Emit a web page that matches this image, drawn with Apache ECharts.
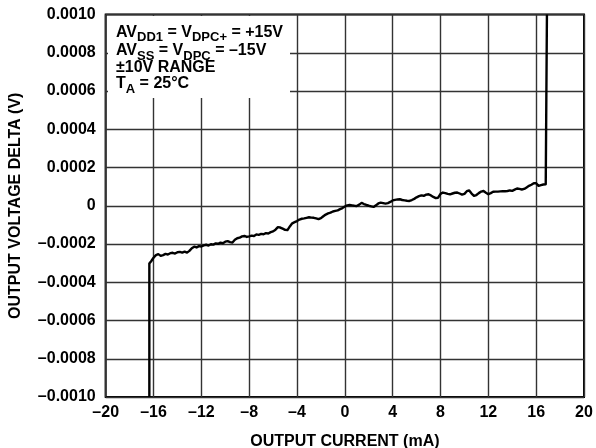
<!DOCTYPE html>
<html>
<head>
<meta charset="utf-8">
<script src="https://cdn.jsdelivr.net/npm/echarts@6/dist/echarts.min.js"></script>
<style>
html,body{margin:0;padding:0;background:#fff;}
#chart{width:596px;height:448px;}
</style>
</head>
<body>
<div id="chart"></div>
<script>
// Output current (mA)
const currentMA = [
-16.35,-16.35,-16.2,-16.0,-15.8,-15.6,-15.4,-15.2,-15.0,-14.8,-14.6,-14.4,-14.2,-14.0,-13.8,-13.6,-13.4,-13.2,-13.0,-12.8,
-12.6,-12.4,-12.2,-12.0,-11.8,-11.6,-11.4,-11.2,-11.0,-10.8,-10.6,-10.4,-10.2,-10.0,-9.8,-9.6,-9.4,-9.2,-9.0,-8.8,
-8.6,-8.4,-8.2,-8.0,-7.8,-7.6,-7.4,-7.2,-7.0,-6.8,-6.6,-6.4,-6.2,-6.0,-5.8,-5.6,-5.4,-5.2,-5.0,-4.8,
-4.6,-4.4,-4.2,-4.0,-3.8,-3.6,-3.4,-3.2,-3.0,-2.8,-2.6,-2.4,-2.2,-2.0,-1.8,-1.6,-1.4,-1.2,-1.0,-0.8,
-0.6,-0.4,-0.2,0.0,0.2,0.4,0.6,0.8,1.0,1.2,1.4,1.6,1.8,2.0,2.2,2.4,2.6,2.8,3.0,3.2,
3.4,3.6,3.8,4.0,4.2,4.4,4.6,4.8,5.0,5.2,5.4,5.6,5.8,6.0,6.2,6.4,6.6,6.8,7.0,7.2,
7.4,7.6,7.8,8.0,8.2,8.4,8.6,8.8,9.0,9.2,9.4,9.6,9.8,10.0,10.2,10.4,10.6,10.8,11.0,11.2,
11.4,11.6,11.8,12.0,12.2,12.4,12.6,12.8,13.0,13.2,13.4,13.6,13.8,14.0,14.2,14.4,14.6,14.8,15.0,15.2,
15.4,15.6,15.8,16.0,16.2,16.4,16.6,16.8,16.9,16.9
];
// Output voltage delta (V)
const deltaV = [
-1000e-6,-302e-6,-290e-6,-272e-6,-258e-6,-253e-6,-262e-6,-258e-6,-252e-6,-255e-6,-248e-6,-246e-6,-250e-6,-243e-6,-241e-6,-245e-6,-240e-6,-245e-6,-236e-6,-222e-6,
-214e-6,-218e-6,-211e-6,-213e-6,-207e-6,-204e-6,-208e-6,-201e-6,-203e-6,-197e-6,-199e-6,-193e-6,-196e-6,-188e-6,-185e-6,-190e-6,-192e-6,-178e-6,-170e-6,-167e-6,
-160e-6,-158e-6,-163e-6,-160e-6,-156e-6,-158e-6,-150e-6,-152e-6,-147e-6,-149e-6,-143e-6,-145e-6,-138e-6,-134e-6,-125e-6,-112e-6,-114e-6,-120e-6,-126e-6,-127e-6,
-108e-6,-92e-6,-86e-6,-80e-6,-72e-6,-68e-6,-66e-6,-63e-6,-60e-6,-62e-6,-63e-6,-66e-6,-70e-6,-65e-6,-55e-6,-46e-6,-40e-6,-36e-6,-30e-6,-27e-6,
-24e-6,-18e-6,-12e-6,-4e-6,2e-6,4e-6,2e-6,0e-6,-1e-6,6e-6,15e-6,9e-6,4e-6,0e-6,-3e-6,-6e-6,2e-6,12e-6,16e-6,14e-6,
11e-6,14e-6,20e-6,28e-6,31e-6,33e-6,34e-6,30e-6,28e-6,26e-6,25e-6,30e-6,36e-6,44e-6,50e-6,54e-6,52e-6,58e-6,60e-6,54e-6,
46e-6,40e-6,42e-6,62e-6,69e-6,66e-6,62e-6,60e-6,64e-6,68e-6,69e-6,64e-6,58e-6,62e-6,76e-6,80e-6,64e-6,52e-6,56e-6,66e-6,
74e-6,77e-6,68e-6,60e-6,66e-6,73e-6,74e-6,74e-6,75e-6,76e-6,76e-6,77e-6,80e-6,78e-6,84e-6,90e-6,88e-6,85e-6,88e-6,96e-6,
104e-6,110e-6,118e-6,118e-6,104e-6,108e-6,111e-6,112e-6,110e-6,1000e-6
];
const xTickLabels = ['\u201320','\u201316','\u201312','\u20138','\u20134','0','4','8','12','16','20'];
const yTickLabels = ['\u20130.0010','\u20130.0008','\u20130.0006','\u20130.0004','\u20130.0002','0','0.0002','0.0004','0.0006','0.0008','0.0010'];
const xAxisTitle = 'OUTPUT CURRENT (mA)';
const yAxisTitle = 'OUTPUT VOLTAGE DELTA (V)';
// note box lines: {m|...} main text, {s|...} subscript
const noteLines = [
  '{m|AV}{s|DD1}{m| = V}{s|DPC+}{m| = +15V}',
  '{m|AV}{s|SS}{m| = V}{s|DPC}{m| = \u201315V}',
  '{m|\u00b110V RANGE}',
  '{m|T}{s|A}{m| = 25\u00b0C}'
];

const FONT = '"Liberation Sans", Arial, Helvetica, sans-serif';
const chart = echarts.init(document.getElementById('chart'), null, {renderer:'canvas'});

const noteTops = [22.2, 40.6, 57.2, 73.9];
const rich = {
  m:{fontSize:16, fontWeight:'bold', fontFamily:FONT, fill:'#000', lineHeight:20},
  s:{fontSize:13, fontWeight:'bold', fontFamily:FONT, fill:'#000', lineHeight:20, padding:[11,0,0,0]}
};
const noteElems = [{
  type:'rect', shape:{x:108, y:16, width:182, height:82}, style:{fill:'#fff'}, z:5, silent:true
}];
noteLines.forEach((t, i) => {
  noteElems.push({
    type:'text', z:6, silent:true, x:116, y:noteTops[i],
    style:{text:t, rich:rich, align:'left', verticalAlign:'top'}
  });
});

const option = {
  animation:false,
  backgroundColor:'#fff',
  grid:{left:105.7, right:12, top:14.5, bottom:51, show:true, borderColor:'#000', borderWidth:2,
        backgroundColor:'transparent', containLabel:false, outerBoundsMode:'none'},
  xAxis:{
    type:'value', min:-20, max:20, interval:4,
    name:xAxisTitle, nameLocation:'middle', nameGap:37,
    nameTextStyle:{color:'#000', fontWeight:'bold', fontSize:16, fontFamily:FONT},
    axisLine:{show:false}, axisTick:{show:false},
    axisLabel:{color:'#000', fontWeight:'bold', fontSize:16, fontFamily:FONT, margin:8,
      formatter:(v) => xTickLabels[Math.round((v + 20) / 4)]},
    splitLine:{show:true, lineStyle:{color:'#333', width:1.4}}
  },
  yAxis:{
    type:'value', min:-0.001, max:0.001, interval:0.0002,
    name:yAxisTitle, nameLocation:'middle', nameGap:82, nameRotate:90,
    nameTextStyle:{color:'#000', fontWeight:'bold', fontSize:16, fontFamily:FONT},
    axisLine:{show:false}, axisTick:{show:false},
    axisLabel:{color:'#000', fontWeight:'bold', fontSize:16, fontFamily:FONT, margin:10,
      formatter:(v) => yTickLabels[Math.round((v + 0.001) / 0.0002)]},
    splitLine:{show:true, lineStyle:{color:'#333', width:1.4}}
  },
  graphic: noteElems,
  series:[{
    type:'line', data: currentMA.map((c, i) => [c, deltaV[i]]),
    showSymbol:false, symbol:'none', z:10,
    lineStyle:{color:'#000', width:2.4, join:'round'},
    clip:true
  }]
};
chart.setOption(option);
</script>
</body>
</html>
